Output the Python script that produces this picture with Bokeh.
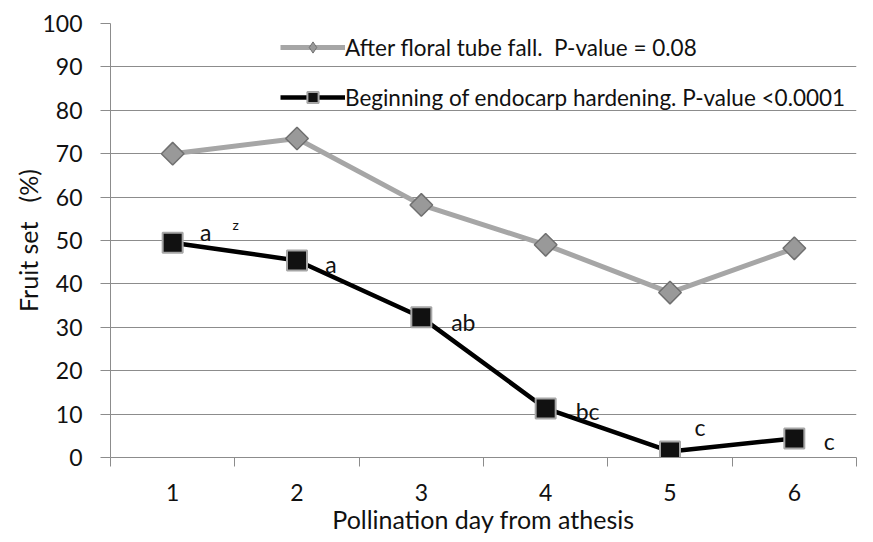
import math
from bokeh.plotting import figure
from bokeh.models import (ColumnDataSource, Range1d, FixedTicker, Legend, LegendItem)
from bokeh.core.properties import value
from bokeh.embed import file_html
from bokeh.resources import INLINE

days = [1, 2, 3, 4, 5, 6]
after_fall = [70.0, 73.5, 58.2, 49.0, 38.0, 48.2]
endocarp = [49.5, 45.4, 32.3, 11.3, 1.4, 4.4]
letters = ["a", "a", "ab", "bc", "c", "c"]
y_ticks = [0, 10, 20, 30, 40, 50, 60, 70, 80, 90, 100]

FONT = "Lato"
GRID = "#8c8c8c"

p = figure(width=870, height=540, output_backend="svg", toolbar_location=None,
           x_range=Range1d(0.5, 6.5), y_range=Range1d(0, 100),
           min_border_left=110, min_border_right=14, min_border_top=23,
           min_border_bottom=83)
p.outline_line_color = None
p.background_fill_color = "white"

# axes
p.xaxis.ticker = FixedTicker(ticks=days, minor_ticks=[0.5, 1.5, 2.5, 3.5, 4.5, 5.5, 6.5])
p.xaxis.major_tick_line_color = None
p.xaxis.minor_tick_line_color = GRID
p.xaxis.minor_tick_out = 9
p.xaxis.minor_tick_in = 0
p.xaxis.axis_line_color = GRID
p.xaxis.major_label_standoff = 17
p.xaxis.axis_label = "Pollination day from athesis"
p.xaxis.axis_label_standoff = 0

p.yaxis.ticker = FixedTicker(ticks=y_ticks)
p.yaxis.major_tick_line_color = GRID
p.yaxis.major_tick_out = 10
p.yaxis.major_tick_in = 0
p.yaxis.minor_tick_line_color = None
p.yaxis.axis_line_color = GRID
p.yaxis.major_label_standoff = 18
p.yaxis.axis_label = "Fruit set\u00a0\u00a0\u00a0(%)"
p.yaxis.axis_label_standoff = -4

for ax in (p.xaxis, p.yaxis):
    ax.major_label_text_font = FONT
    ax.major_label_text_font_size = "23px"
    ax.major_label_text_color = "#111111"
    ax.axis_label_text_font = FONT
    ax.axis_label_text_font_size = "25px"
    ax.axis_label_text_font_style = "normal"
    ax.axis_label_text_color = "#111111"

p.xgrid.grid_line_color = None
p.ygrid.ticker = FixedTicker(ticks=y_ticks)
p.ygrid.grid_line_color = GRID
p.ygrid.grid_line_width = 1

src = ColumnDataSource(dict(x=days, a=after_fall, e=endocarp, lab=letters,
                            dx=[33, 34, 42, 42, 30, 35], dy=[-11, 4, 5, 3, -24, 3]))

l1 = p.line("x", "a", source=src, line_color="#a6a6a6", line_width=5)
s1 = p.scatter("x", "a", source=src, marker="square", size=16, angle=math.pi / 4,
               fill_color="#999999", line_color="#707070", line_width=1.5)
l2 = p.line("x", "e", source=src, line_color="#000000", line_width=4.5)
s2 = p.scatter("x", "e", source=src, marker="square", size=20,
               fill_color="#111111", line_color="#a6a6a6", line_width=2)

# legend-only diamond glyph (NaN placeholder, never drawn in the plot)
nan = float("nan")
leg_d = p.scatter(x=[nan], y=[nan], marker="diamond", size=16,
                  fill_color="#999999", line_color="#707070", line_width=1)

p.text("x", "e", text="lab", source=src, x_offset="dx", y_offset="dy",
       text_align="center", text_baseline="middle", text_font=value(FONT),
       text_font_size="23px", text_color="#111111")
p.text(x=[days[0]], y=[endocarp[0]], text=["z"], x_offset=63, y_offset=-18,
       text_align="center", text_baseline="middle", text_font=value(FONT),
       text_font_size="14px", text_color="#111111")

legend = Legend(items=[
    LegendItem(label="After floral tube fall.  P-value = 0.08", renderers=[l1, leg_d]),
    LegendItem(label="Beginning of endocarp hardening. P-value <0.0001", renderers=[l2, s2]),
], location=(170, 346))
legend.background_fill_alpha = 0
legend.border_line_color = None
legend.padding = 0
legend.margin = 0
legend.spacing = 22
legend.glyph_width = 65
legend.glyph_height = 28
legend.label_height = 28
legend.label_standoff = 0
legend.label_text_font = FONT
legend.label_text_font_size = "22.5px"
legend.label_text_color = "#111111"
p.add_layout(legend, "center")

open("out.html", "w").write(file_html(p, INLINE))
